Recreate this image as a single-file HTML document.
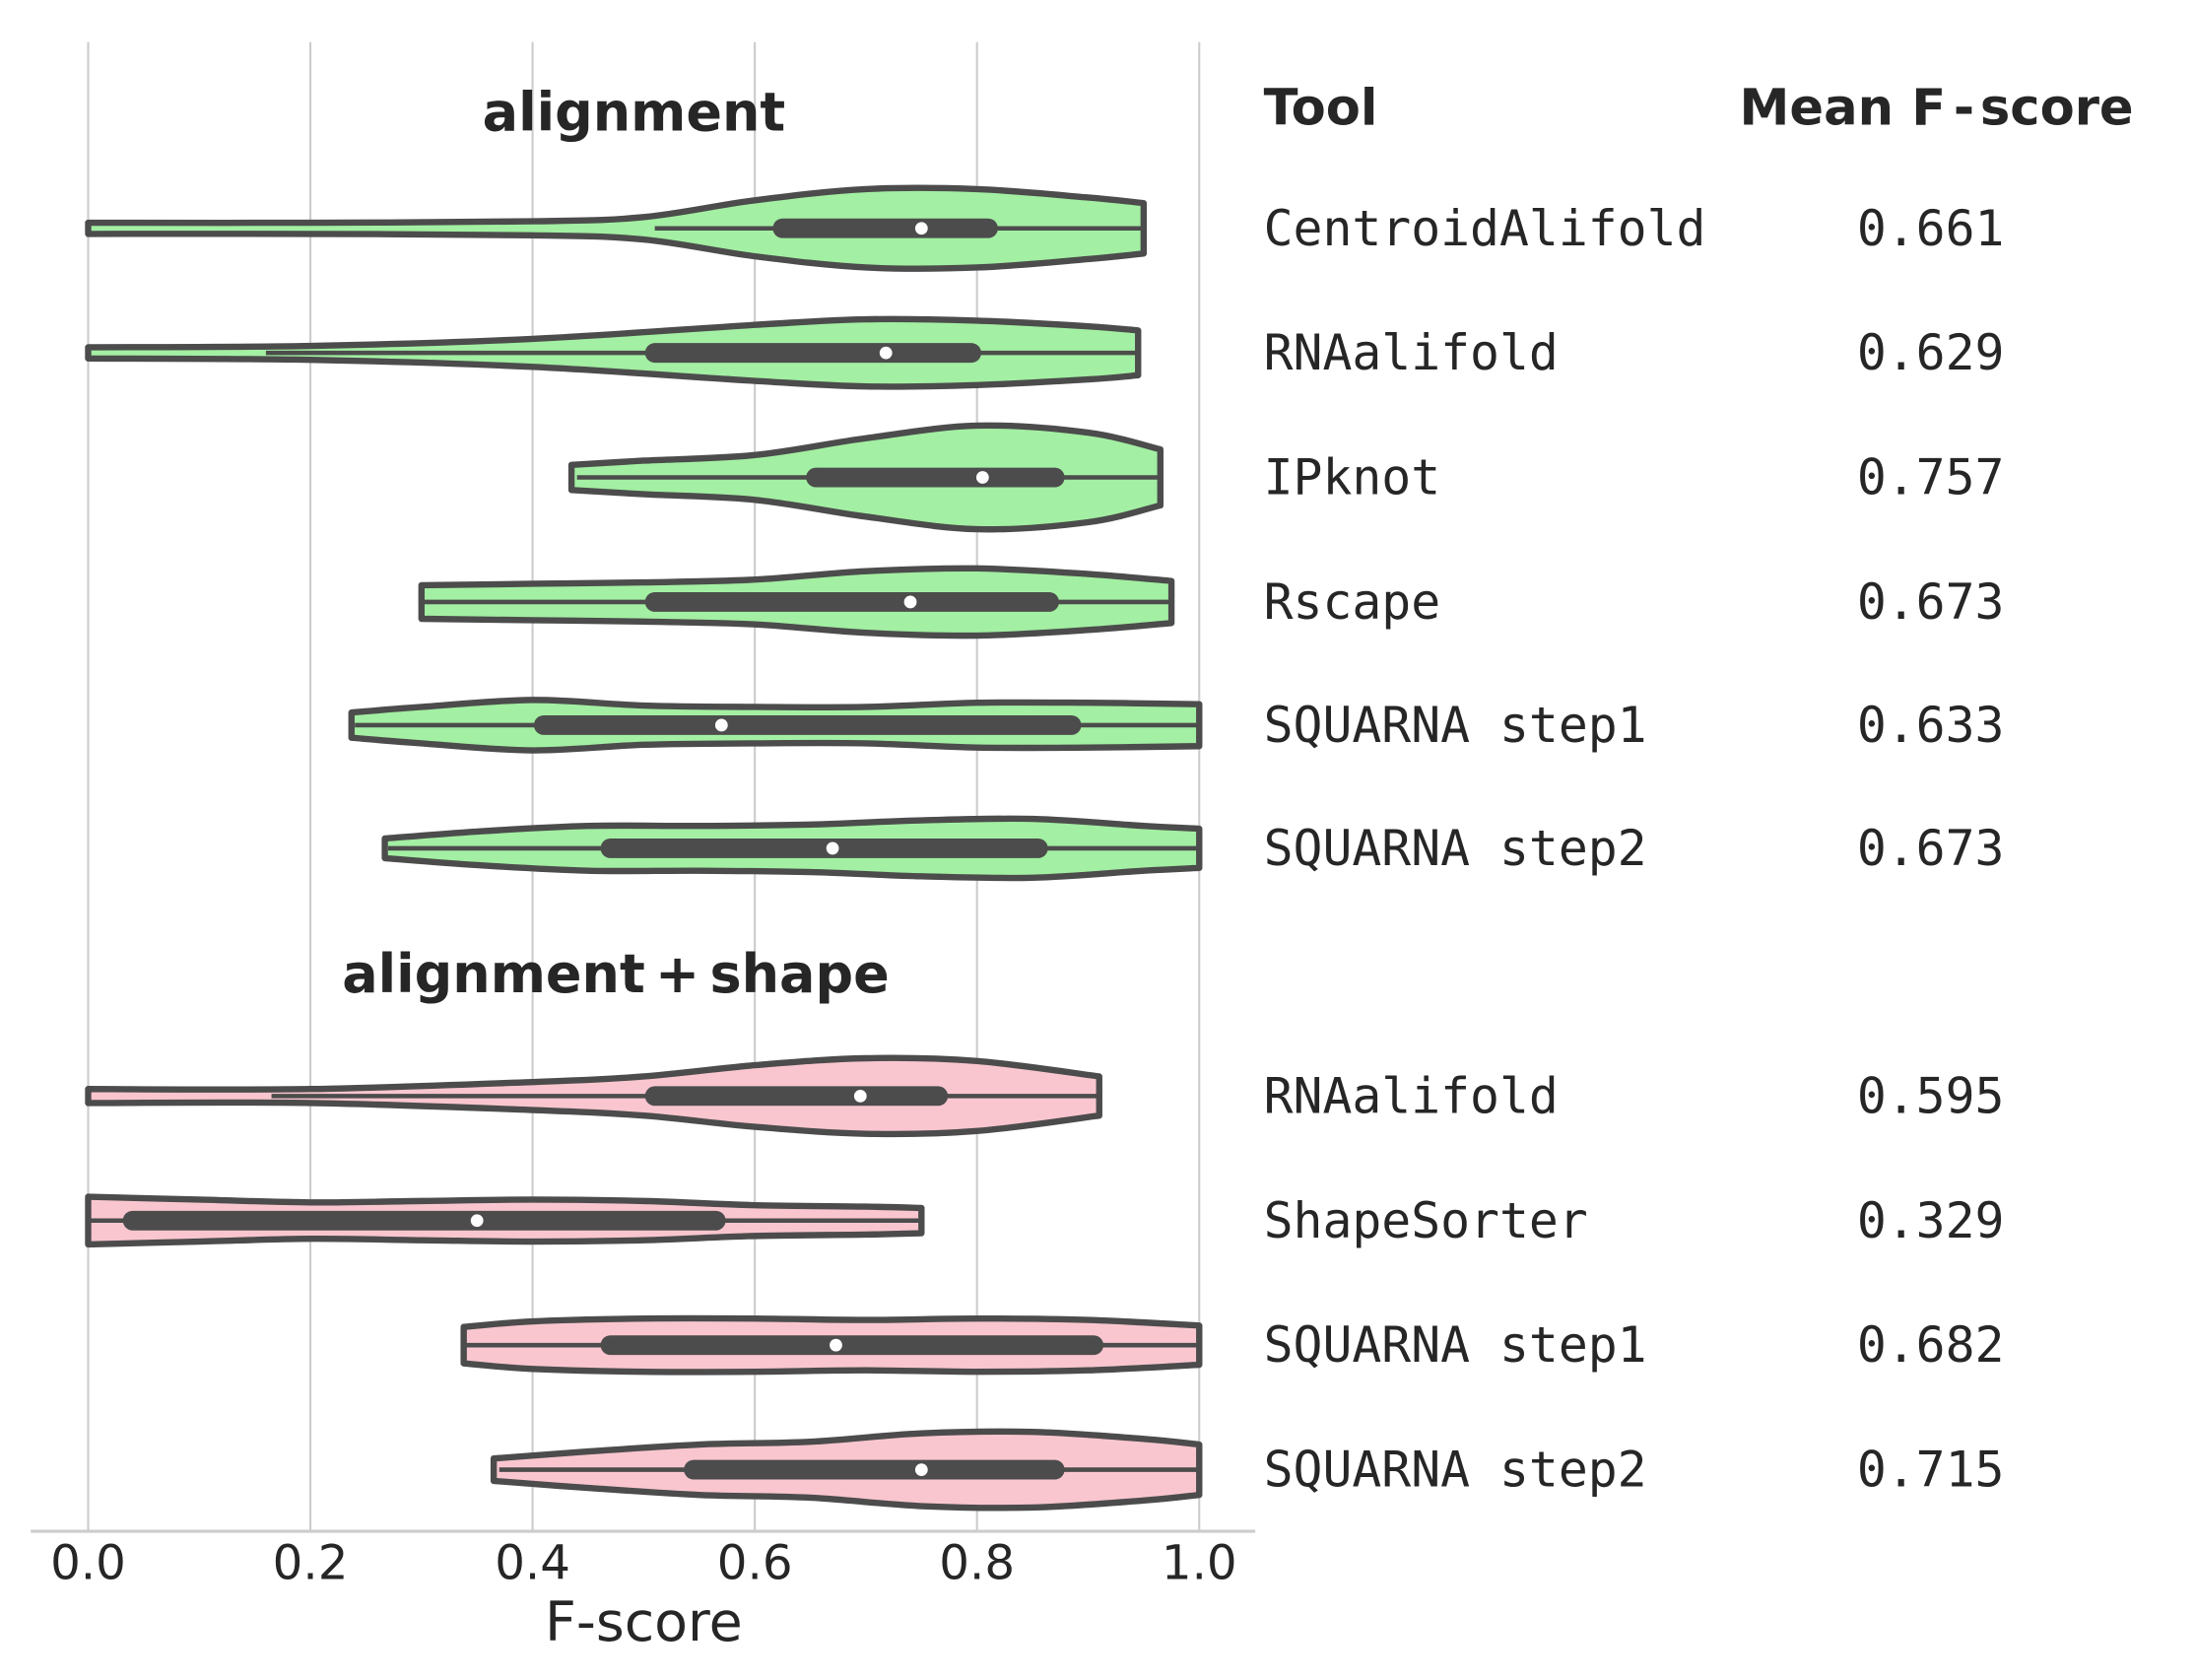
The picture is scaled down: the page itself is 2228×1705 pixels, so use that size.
<!DOCTYPE html>
<html><head><meta charset="utf-8"><style>html,body{margin:0;padding:0;background:#fff}</style></head>
<body>
<svg id="chart" xmlns="http://www.w3.org/2000/svg" width="2228" height="1700" viewBox="0 0 1568.6 1196.6">
<rect width="1568.6" height="1196.6" fill="#fff"/>
<g id="grid"></g>
<g id="violins"></g>
<g id="axis"></g>
<g id="table"></g>
</svg>
<script>
const tools = ["CentroidAlifold","RNAalifold","IPknot","Rscape","SQUARNA step1","SQUARNA step2","RNAalifold","ShapeSorter","SQUARNA step1","SQUARNA step2"];
const groups = ["a","a","a","a","a","a","s","s","s","s"];
const means = ["0.661","0.629","0.757","0.673","0.633","0.673","0.595","0.329","0.682","0.715"];
const mins = [0,0,0.435,0.30,0.237,0.267,0,0,0.338,0.365];
const maxs = [0.95,0.945,0.965,0.975,1,1,0.91,0.75,1,1];
const q1s = [0.625,0.51,0.655,0.51,0.41,0.47,0.51,0.04,0.47,0.545];
const q3s = [0.81,0.795,0.87,0.865,0.885,0.855,0.765,0.565,0.905,0.87];
const medians = [0.75,0.718,0.805,0.74,0.57,0.67,0.695,0.35,0.673,0.75];
const whiskLo = [0.51,0.16,0.44,0.30,0.24,0.27,0.165,0,0.34,0.37];
const whiskHi = [0.95,0.945,0.965,0.975,1,1,0.91,0.75,1,1];
const densX = [
 [0,0.2,0.4,0.5,0.6,0.7,0.8,0.9,0.95],
 [0,0.2,0.4,0.6,0.7,0.8,0.9,0.945],
 [0.435,0.5,0.6,0.7,0.8,0.9,0.965],
 [0.3,0.4,0.5,0.6,0.7,0.8,0.9,0.975],
 [0.237,0.3,0.4,0.5,0.6,0.7,0.8,0.9,1.0],
 [0.267,0.35,0.45,0.55,0.65,0.75,0.85,0.95,1.0],
 [0,0.2,0.4,0.5,0.6,0.7,0.8,0.91],
 [0,0.1,0.2,0.3,0.4,0.5,0.6,0.7,0.75],
 [0.338,0.4,0.5,0.6,0.7,0.8,0.9,1.0],
 [0.365,0.45,0.55,0.65,0.75,0.85,0.95,1.0]
];
const densW = [
 [4,4,5,8,20,28,28,22,18],
 [4,5,10,20,24,23,19,16],
 [9,12,16,28,37,32,20],
 [12,13,14,16,22,24,20,15],
 [9,13,18,14,13,13,16,16,15],
 [7,12,16,16,17,20,21,16,14],
 [5,5,10,14,22,27,25,14],
 [17,15,13,14,15,14,11,10,9],
 [13,17,19,19,18,19,18,14],
 [8,13,18,20,26,27,22,18]
];
const ticks = [0,0.2,0.4,0.6,0.8,1.0];
const tickLabels = ["0.0","0.2","0.4","0.6","0.8","1.0"];
const rowY = [163,252,341,430,518,606,783,872,961,1050];

const NS="http://www.w3.org/2000/svg";
const X0=63,X1=857;
function xs(v){return X0+(X1-X0)*v;}
function mk(tag,attrs,parent,text){const e=document.createElementNS(NS,tag);for(const k in attrs)e.setAttribute(k,attrs[k]);if(text!==undefined)e.textContent=text;parent.appendChild(e);return e;}
const grid=document.getElementById('grid'),vg=document.getElementById('violins'),ax=document.getElementById('axis'),tb=document.getElementById('table');
const SANS='DejaVu Sans, Liberation Sans, sans-serif', MONO='DejaVu Sans Mono, Liberation Mono, monospace';

ticks.forEach((t,i)=>{
 const l=mk('line',{x1:xs(t),x2:xs(t),y1:30,y2:1094,stroke:'#cccccc','stroke-width':1.5},grid);
 
 
 const tx=mk('text',{x:xs(t),y:1128,'text-anchor':'middle','font-family':SANS,'font-size':34,fill:'#262626'},ax,tickLabels[i]);
 
 
});
const al=mk('line',{x1:22,x2:897,y1:1094,y2:1094,stroke:'#cccccc','stroke-width':2.2},ax);


const xt=mk('text',{x:460,y:1172,'text-anchor':'middle','font-family':SANS,'font-size':39,fill:'#262626'},ax,'F-score');



function smooth(pts){
 let d='';
 for(let i=0;i<pts.length-1;i++){
  const p0=pts[Math.max(0,i-1)],p1=pts[i],p2=pts[i+1],p3=pts[Math.min(pts.length-1,i+2)];
  const c1=[p1[0]+(p2[0]-p0[0])/6,p1[1]+(p2[1]-p0[1])/6];
  const c2=[p2[0]-(p3[0]-p1[0])/6,p2[1]-(p3[1]-p1[1])/6];
  d+=` C${c1[0]},${c1[1]} ${c2[0]},${c2[1]} ${p2[0]},${p2[1]}`;
 }
 return d;
}
rowY.forEach((y,i)=>{
 const fill=groups[i]==='a'?'#a3efa3':'#f9c6cf';
 const top=densX[i].map((v,j)=>[xs(v),y-densW[i][j]]);
 const bot=densX[i].map((v,j)=>[xs(v),y+densW[i][j]]).reverse();
 let d=`M${top[0][0]},${top[0][1]}`+smooth(top)+` L${bot[0][0]},${bot[0][1]}`+smooth(bot)+' Z';
 const p=mk('path',{d:d,fill:fill,stroke:'#4c4c4c','stroke-width':4.5,'stroke-linejoin':'round'},vg);
 
 
 const w=mk('line',{x1:xs(whiskLo[i]),x2:xs(whiskHi[i]),y1:y,y2:y,stroke:'#4c4c4c','stroke-width':3.2},vg);
 
 
 const b=mk('line',{x1:xs(q1s[i]),x2:xs(q3s[i]),y1:y,y2:y,stroke:'#4c4c4c','stroke-width':14,'stroke-linecap':'round'},vg);
 
 
 const c=mk('circle',{cx:xs(medians[i]),cy:y,r:4.5,fill:'#fff'},vg);
 
 
 const tn=mk('text',{x:903,y:y+12,'font-family':MONO,'font-size':35,fill:'#262626'},tb,tools[i]);
 
 
 const tm=mk('text',{x:1327,y:y+12,'font-family':MONO,'font-size':35,fill:'#262626'},tb,means[i]);
 
 
});
const th=mk('text',{x:903,y:89,'font-family':SANS,'font-size':36,'font-weight':'bold',fill:'#262626'},tb,'Tool');


const mh=mk('text',{x:1243,y:89,'font-family':SANS,'font-size':36,'font-weight':'bold',fill:'#262626'},tb,'');


mk('tspan',{},mh,'Mean');
mk('tspan',{x:1366},mh,'F');
mk('tspan',{x:1396},mh,'-');
mk('tspan',{x:1415},mh,'score');
const t1=mk('text',{x:453,y:93,'text-anchor':'middle','font-family':SANS,'font-size':38,'font-weight':'bold',fill:'#262626'},tb,'alignment');


const t2=mk('text',{x:440,y:709,'text-anchor':'middle','font-family':SANS,'font-size':38,'font-weight':'bold',fill:'#262626','word-spacing':-6},tb,'alignment + shape');


</script>
</body></html>
